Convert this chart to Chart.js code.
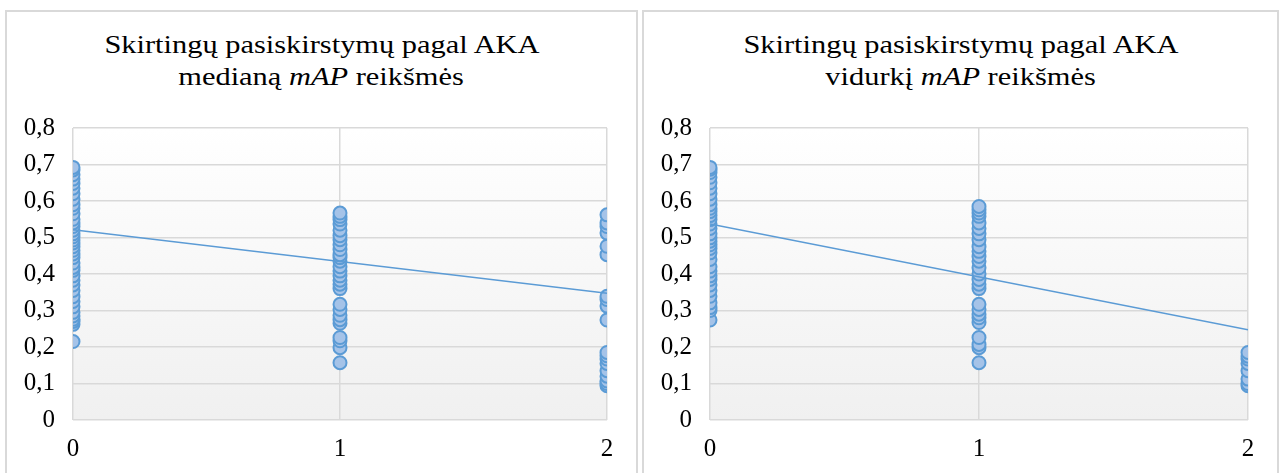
<!DOCTYPE html>
<html>
<head>
<meta charset="utf-8">
<script src="https://cdn.jsdelivr.net/npm/chart.js@4/dist/chart.umd.min.js"></script>
<style>
  html, body { margin: 0; padding: 0; background: #ffffff; width: 1285px; height: 473px; overflow: hidden; }
  .box { position: absolute; top: 10px; height: 480px; border: 2px solid #d9d9d9; box-sizing: border-box; background: #fff; }
  .title { position: absolute; left: 0; right: 0; top: 17px; text-align: center; font-family: "Liberation Serif", "Times New Roman", serif; font-size: 26px; line-height: 32px; color: #000; }
  .title span { display: inline-block; transform: scaleX(1.17); transform-origin: center; white-space: nowrap; }
  .box canvas { position: absolute; left: 0; top: 0; }
</style>
</head>
<body>
<div class="box" id="boxA" style="left:5px; width:633px;">
  <div class="title"><span>Skirtingų pasiskirstymų pagal AKA</span><br><span>medianą <i>mAP</i> reikšmės</span></div>
  <canvas id="chartA" width="629" height="461"></canvas>
</div>
<div class="box" id="boxB" style="left:642px; width:637px;">
  <div class="title"><span>Skirtingų pasiskirstymų pagal AKA</span><br><span>vidurkį <i>mAP</i> reikšmės</span></div>
  <canvas id="chartB" width="633" height="461"></canvas>
</div>
<script>
// Groups on the x axis
const categories = [0, 1, 2];
const yTicks = [0, 0.1, 0.2, 0.3, 0.4, 0.5, 0.6, 0.7, 0.8];

// mAP values, split by median
const medianGroup0 = [0.215, 0.262, 0.27, 0.276, 0.285, 0.295, 0.31, 0.325, 0.338, 0.355, 0.37, 0.383, 0.395, 0.41, 0.418, 0.43, 0.445, 0.455, 0.465, 0.475, 0.485, 0.493, 0.502, 0.51, 0.52, 0.53, 0.54, 0.55, 0.565, 0.58, 0.59, 0.605, 0.62, 0.635, 0.648, 0.66, 0.672, 0.685, 0.692];
const medianGroup1 = [0.157, 0.198, 0.217, 0.226, 0.265, 0.275, 0.287, 0.303, 0.317, 0.36, 0.372, 0.383, 0.395, 0.408, 0.42, 0.435, 0.445, 0.453, 0.467, 0.48, 0.494, 0.505, 0.52, 0.537, 0.549, 0.558, 0.567];
const medianGroup2 = [0.094, 0.1, 0.107, 0.12, 0.135, 0.155, 0.167, 0.176, 0.185, 0.274, 0.312, 0.33, 0.339, 0.453, 0.476, 0.512, 0.53, 0.54, 0.562];
const medianTrend = [0.521, 0.347];

// mAP values, split by mean
const meanGroup0 = [0.274, 0.3, 0.308, 0.321, 0.339, 0.355, 0.37, 0.385, 0.395, 0.408, 0.42, 0.44, 0.458, 0.47, 0.48, 0.49, 0.499, 0.51, 0.525, 0.537, 0.549, 0.56, 0.571, 0.58, 0.59, 0.605, 0.62, 0.635, 0.65, 0.665, 0.678, 0.687, 0.692];
const meanGroup1 = [0.157, 0.198, 0.207, 0.226, 0.267, 0.28, 0.29, 0.303, 0.317, 0.36, 0.372, 0.385, 0.4, 0.417, 0.435, 0.448, 0.462, 0.475, 0.494, 0.51, 0.525, 0.54, 0.558, 0.567, 0.576, 0.585];
const meanGroup2 = [0.094, 0.1, 0.112, 0.135, 0.155, 0.167, 0.175, 0.185];
const meanTrend = [0.537, 0.247];

const FONT = '"Liberation Serif", "Times New Roman", serif';
const GRID = '#d9d9d9';
const BLUE = '#5b9bd5';

const plotBackground = {
  id: 'plotBackground',
  beforeDraw(chart) {
    const { ctx, chartArea: a } = chart;
    const g = ctx.createLinearGradient(0, a.top, 0, a.bottom);
    g.addColorStop(0, '#ffffff');
    g.addColorStop(1, '#f0f0f0');
    ctx.save();
    ctx.fillStyle = g;
    ctx.fillRect(a.left, a.top, a.right - a.left, a.bottom - a.top);
    ctx.restore();
  }
};

function toPoints(groups) {
  const pts = [];
  groups.forEach((vals, i) => vals.forEach(v => pts.push({ x: categories[i], y: v })));
  return pts;
}

function makeChart(id, groups, trend, rightPad) {
  const ctx = document.getElementById(id);
  return new Chart(ctx, {
    type: 'scatter',
    data: {
      datasets: [
        {
          type: 'line',
          data: [{ x: categories[0], y: trend[0] }, { x: categories[2], y: trend[1] }],
          borderColor: BLUE,
          borderWidth: 1.5,
          pointRadius: 0,
          fill: false,
          order: 0
        },
        {
          data: toPoints(groups),
          backgroundColor: '#a5c3e8',
          borderColor: BLUE,
          borderWidth: 2,
          pointRadius: 6.5,
          order: 1
        }
      ]
    },
    options: {
      responsive: false,
      animation: false,
      layout: { padding: { top: 116, right: rightPad, bottom: 0, left: 0 } },
      plugins: { legend: { display: false }, tooltip: { enabled: false }, title: { display: false } },
      scales: {
        x: {
          type: 'linear', min: 0, max: 2,
          afterBuildTicks: s => { s.ticks = categories.map(v => ({ value: v })); },
          afterFit: s => { s.height = 53; },
          grid: { color: GRID, lineWidth: 1.5, drawTicks: false },
          border: { display: false },
          ticks: { color: '#000', font: { family: FONT, size: 25 }, padding: 14, maxRotation: 0 }
        },
        y: {
          min: 0, max: 0.8,
          afterBuildTicks: s => { s.ticks = yTicks.map(v => ({ value: v })); },
          afterFit: s => { s.width = 66; },
          grid: { color: GRID, lineWidth: 1.5, drawTicks: false },
          border: { display: false },
          ticks: {
            color: '#000', font: { family: FONT, size: 25 }, padding: 18,
            callback: v => (v === 0 ? '0' : v.toFixed(1).replace('.', ','))
          }
        }
      }
    },
    plugins: [plotBackground]
  });
}

makeChart('chartA', [medianGroup0, medianGroup1, medianGroup2], medianTrend, 29);
makeChart('chartB', [meanGroup0, meanGroup1, meanGroup2], meanTrend, 29);
</script>
</body>
</html>
